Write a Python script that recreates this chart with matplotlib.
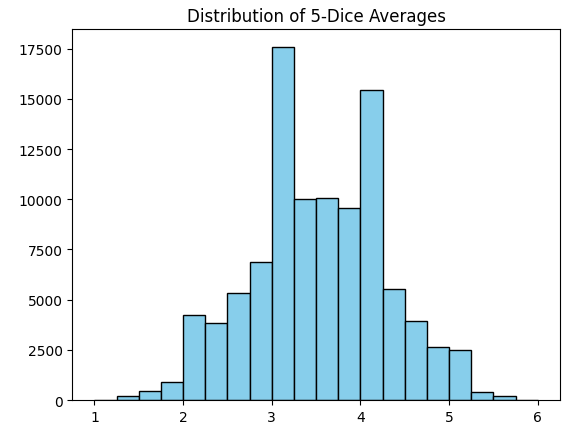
import matplotlib
matplotlib.use("Agg")
import matplotlib.pyplot as plt
import numpy as np

# Histogram of 5-dice averages: 20 bins from 1 to 6
bin_edges = np.linspace(1, 6, 21)
counts = [13, 200, 450, 900, 4250, 3850, 5350, 6900, 17600, 10000,
          10050, 9550, 15450, 5550, 3950, 2650, 2500, 400, 200, 13]

centers = (bin_edges[:-1] + bin_edges[1:]) / 2

fig, ax = plt.subplots(figsize=(5.69, 4.35), dpi=100)
fig.subplots_adjust(left=0.127, right=0.984, top=0.931, bottom=0.078)

ax.hist(centers, bins=bin_edges, weights=counts,
        color="skyblue", edgecolor="black")
ax.set_title("Distribution of 5-Dice Averages")

fig.savefig("out.png", dpi=100)
